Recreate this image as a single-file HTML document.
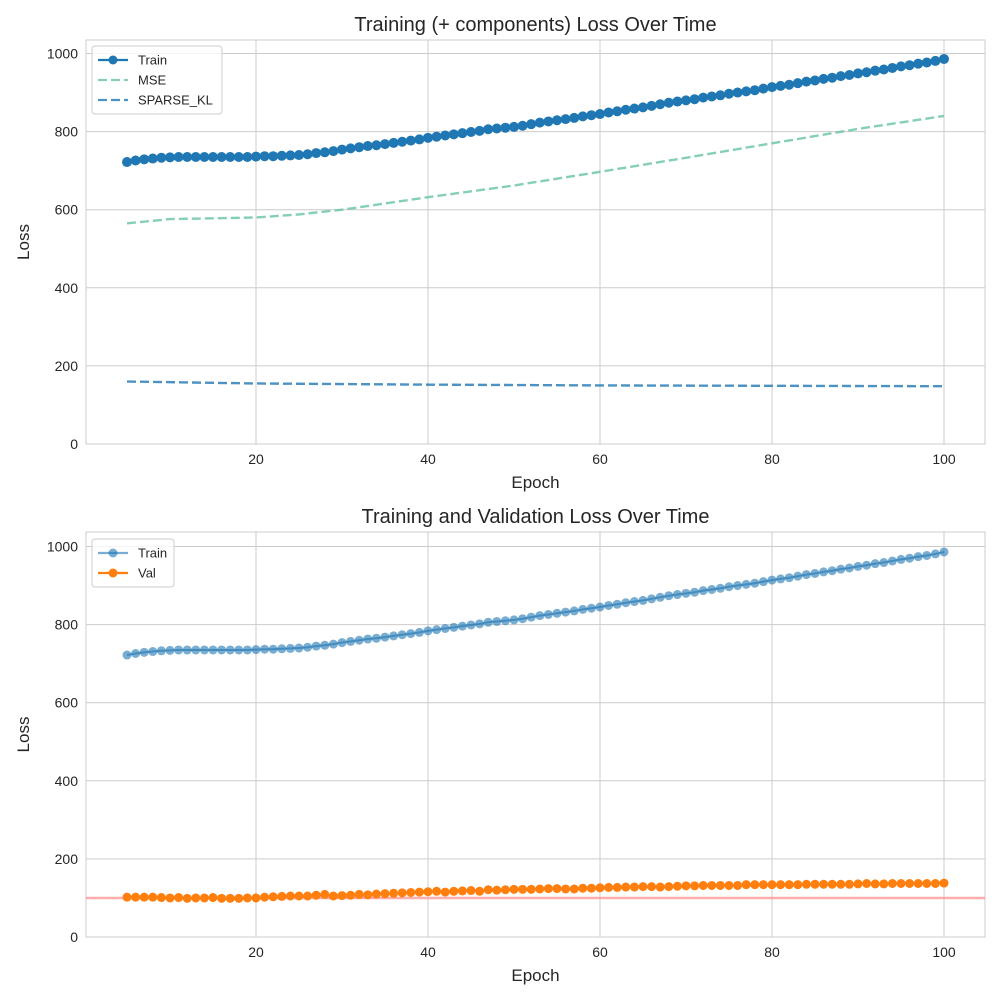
<!DOCTYPE html>
<html><head><meta charset="utf-8"><style>
body{margin:0;background:#fff;font-family:"Liberation Sans","DejaVu Sans",sans-serif}
svg text{font-family:"Liberation Sans","DejaVu Sans",sans-serif;fill:#262626}
</style></head><body>
<svg id="c" width="1000" height="1000" viewBox="0 0 1000 1000"></svg>
<script>
const epochs = [];
for (let e = 5; e <= 100; e++) epochs.push(e);
const trainLoss = [722,726,729,731,733,734,735,735,735,735,735,735,735,735,735,736,737,737,738,739,740,742,745,747,750,754,757,760,763,765,768,771,774,777,780,784,787,790,793,796,799,802,806,808,810,812,815,819,823,826,829,832,835,839,842,845,849,852,856,859,862,866,870,874,877,880,883,887,890,893,897,900,903,906,910,914,917,920,924,928,931,935,938,942,945,949,952,956,959,963,967,970,974,977,981,986];
const valLoss = [102,102,102,102,101,100,101,99,100,100,101,99,99,99,100,100,102,103,104,105,105,105,107,109,105,106,107,109,108,110,111,112,113,114,115,116,117,115,117,118,119,117,121,120,121,122,122,122,123,124,124,123,123,125,125,126,127,127,128,128,129,129,128,129,130,131,131,132,132,132,132,132,134,134,134,134,134,134,134,135,135,135,135,135,135,136,137,136,136,137,137,137,137,137,137,138];
const mseEpochs = [5,10,20,25,30,40,50,60,70,80,90,100];
const mseLoss = [565,576,580,588,600,632,662,697,733,770,807,840];
const klEpochs = [5,20,40,60,100];
const klLoss = [160,155,152,150,148];
const xTicks = [20,40,60,80,100];
const yTicks = [0,200,400,600,800,1000];
const refLine = 100;

const NS="http://www.w3.org/2000/svg";
const svg=document.getElementById('c');
function mk(tag,attrs,parent){const el=document.createElementNS(NS,tag);for(const k in attrs)el.setAttribute(k,attrs[k]);(parent||svg).appendChild(el);return el;}
const L=86,R=985;
const xS=e=>84+8.6*e;

function panel(top,bottom,zeroY,title,name){
  const g=mk('g',{});
  
  
  const yS=v=>zeroY-0.3905*v;
  mk('rect',{x:L,y:top,width:R-L,height:bottom-top,fill:'#fff',stroke:'#ccc','stroke-width':1},g);
  xTicks.forEach(t=>{
    const gl=mk('line',{x1:xS(t),x2:xS(t),y1:top,y2:bottom,stroke:'#ccc','stroke-width':1},g);
    
    
    const tx=mk('text',{x:xS(t),y:bottom+20,'text-anchor':'middle','font-size':14},g);tx.textContent=t;
    
    
  });
  yTicks.forEach(t=>{
    const gl=mk('line',{x1:L,x2:R,y1:yS(t),y2:yS(t),stroke:'#ccc','stroke-width':1},g);
    
    
    const tx=mk('text',{x:L-8,y:yS(t)+5,'text-anchor':'end','font-size':14},g);tx.textContent=t;
    
    
  });
  const tt=mk('text',{x:(L+R)/2,y:top-9,'text-anchor':'middle','font-size':20},g);tt.textContent=title;
  
  
  const xl=mk('text',{x:(L+R)/2,y:bottom+44,'text-anchor':'middle','font-size':17},g);xl.textContent='Epoch';
  
  
  const yl=mk('text',{x:29,y:(top+bottom)/2,'text-anchor':'middle','font-size':17,transform:`rotate(-90 29 ${(top+bottom)/2})`},g);yl.textContent='Loss';
  
  
  return {g,yS};
}
function line(g,xs,ys,yS,attrs,name){
  const p=mk('polyline',Object.assign({points:xs.map((e,i)=>xS(e)+','+yS(ys[i])).join(' '),fill:'none'},attrs),g);
  
  
}
function dots(g,xs,ys,yS,r,color,op,name){
  xs.forEach((e,i)=>{
    const c=mk('circle',{cx:xS(e),cy:yS(ys[i]),r:r,fill:color,'fill-opacity':op},g);
    
    
  });
}
function legend(g,x,y,w,items){
  const lg=mk('g',{},g);
  
  
  mk('rect',{x:x,y:y,width:w,height:items.length*20+8,rx:3,fill:'#fff','fill-opacity':0.8,stroke:'#ccc'},lg);
  items.forEach((it,i)=>{
    const yy=y+14+i*20;
    const e=mk('g',{},lg);
    
    
    mk('line',{x1:x+6,x2:x+36,y1:yy,y2:yy,stroke:it.c,'stroke-width':2.2,'stroke-dasharray':it.dash||'','stroke-opacity':it.op||1},e);
    if(it.m)mk('circle',{cx:x+21,cy:yy,r:4.5,fill:it.c,'fill-opacity':it.op||1},e);
    const t=mk('text',{x:x+46,y:yy+4.5,'font-size':13},e);t.textContent=it.t;
  });
}

const p1=panel(40,444,444,'Training (+ components) Loss Over Time','top-panel');
line(p1.g,mseEpochs,mseLoss,p1.yS,{stroke:'#66c2a5','stroke-opacity':0.8,'stroke-width':2.4,'stroke-dasharray':'9,4'},'mse-line');
line(p1.g,klEpochs,klLoss,p1.yS,{stroke:'#1f77b4','stroke-opacity':0.8,'stroke-width':2.4,'stroke-dasharray':'9,4'},'sparse-kl-line');
line(p1.g,epochs,trainLoss,p1.yS,{stroke:'#1f77b4','stroke-width':2},'train-line');
dots(p1.g,epochs,trainLoss,p1.yS,5,'#1f77b4',1,'train-point');
legend(p1.g,92,46,130,[{t:'Train',c:'#1f77b4',m:true},{t:'MSE',c:'#66c2a5',dash:'9,4',op:0.8},{t:'SPARSE_KL',c:'#1f77b4',dash:'9,4',op:0.8}]);

const p2=panel(532,937,937,'Training and Validation Loss Over Time','bottom-panel');
const rl=mk('line',{x1:L,x2:R,y1:p2.yS(refLine),y2:p2.yS(refLine),stroke:'#ff9999','stroke-opacity':0.8,'stroke-width':2.5},p2.g);


line(p2.g,epochs,trainLoss,p2.yS,{stroke:'#1f77b4','stroke-opacity':0.6,'stroke-width':2},'train-line');
dots(p2.g,epochs,trainLoss,p2.yS,4.5,'#1f77b4',0.6,'train-point');
line(p2.g,epochs,valLoss,p2.yS,{stroke:'#ff7f0e','stroke-width':2},'val-line');
dots(p2.g,epochs,valLoss,p2.yS,4.5,'#ff7f0e',1,'val-point');
legend(p2.g,92,539,82,[{t:'Train',c:'#1f77b4',m:true,op:0.6},{t:'Val',c:'#ff7f0e',m:true}]);
</script>
</body></html>
